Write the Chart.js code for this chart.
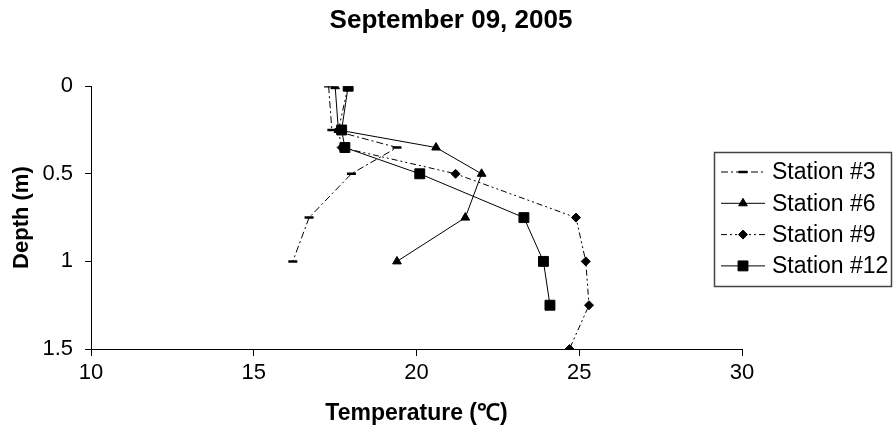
<!DOCTYPE html>
<html>
<head>
<meta charset="utf-8">
<script src="https://cdn.jsdelivr.net/npm/chart.js@4.4.0/dist/chart.umd.min.js"></script>
<style>
  body { margin: 0; background: #fff; }
  #wrap { width: 893px; height: 442px; position: relative; }
</style>
</head>
<body>
<div id="wrap"><canvas id="profile"></canvas></div>
<script>
const stationNames = ['Station #3', 'Station #6', 'Station #9', 'Station #12'];

const depth3 = [0, 0.25, 0.35, 0.5, 0.75, 1];
const temp3 = [17.3, 17.4, 19.4, 18.0, 16.7, 16.2];

const depth6 = [0, 0.25, 0.35, 0.5, 0.75, 1];
const temp6 = [17.5, 17.6, 20.6, 22.0, 21.5, 19.4];

const depth9 = [0, 0.25, 0.35, 0.5, 0.75, 1, 1.25, 1.5];
const temp9 = [17.9, 17.6, 17.7, 21.2, 24.9, 25.2, 25.3, 24.7];

const depth12 = [0, 0.25, 0.35, 0.5, 0.75, 1, 1.25];
const temp12 = [17.9, 17.7, 17.8, 20.1, 23.3, 23.9, 24.1];

const FONT = '"Liberation Sans", Arial, sans-serif';

function pairs (temps, depths) {
  return temps.map((t, i) => ({ x: t, y: depths[i] }));
}

function series (label, temps, depths, style, order) {
  return Object.assign({
    label: label,
    data: pairs(temps, depths),
    showLine: true,
    borderColor: '#000',
    backgroundColor: '#000',
    pointBorderColor: '#000',
    pointBackgroundColor: '#000',
    borderWidth: 1,
    pointBorderWidth: 1,
    order: order
  }, style);
}

const datasets = [
  series(stationNames[0], temp3, depth3, {
    borderDash: [7, 3, 2, 3], pointStyle: 'line', pointRadius: 4.5, pointBorderWidth: 2.5
  }, 3),
  series(stationNames[1], temp6, depth6, {
    pointStyle: 'triangle', pointRadius: 5
  }, 2),
  series(stationNames[2], temp9, depth9, {
    borderDash: [6, 3, 2, 3, 2, 3], pointStyle: 'rectRot', pointRadius: 4.5
  }, 1),
  series(stationNames[3], temp12, depth12, {
    pointStyle: 'rect', pointRadius: 7
  }, 0)
];

// legend drawn by hand so it can sit over the plot's right edge like the original
const legendBox = {
  id: 'legendBox',
  afterDraw (chart) {
    const ctx = chart.ctx;
    const left = 714, top = 152, right = 892, bottom = 287;
    ctx.save();
    ctx.fillStyle = '#fff';
    ctx.fillRect(left, top, right - left, bottom - top);
    ctx.strokeStyle = '#444';
    ctx.lineWidth = 1.5;
    ctx.strokeRect(left + 0.5, top + 0.5, right - left - 1, bottom - top - 1);
    chart.data.datasets.forEach((ds, i) => {
      const y = 172 + i * 31.3;
      ctx.save();
      ctx.strokeStyle = '#000';
      ctx.lineWidth = 1;
      ctx.setLineDash(ds.borderDash || []);
      ctx.beginPath();
      ctx.moveTo(721, y);
      ctx.lineTo(765, y);
      ctx.stroke();
      ctx.restore();
      ctx.fillStyle = '#000';
      ctx.strokeStyle = '#000';
      ctx.lineWidth = ds.pointBorderWidth;
      Chart.helpers.drawPoint(ctx, {
        pointStyle: ds.pointStyle,
        radius: ds.pointRadius,
        rotation: 0,
        borderWidth: ds.pointBorderWidth
      }, 743, y);
      ctx.fillStyle = '#000';
      ctx.font = '23px ' + FONT;
      ctx.textBaseline = 'middle';
      ctx.textAlign = 'left';
      ctx.fillText(ds.label, 772, y + 1);
    });
    ctx.restore();
  }
};

new Chart(document.getElementById('profile'), {
  type: 'scatter',
  data: { datasets: datasets },
  options: {
    responsive: true,
    maintainAspectRatio: false,
    animation: false,
    layout: {
      padding: { left: 9, right: 0, top: 0, bottom: 11 }
    },
    plugins: {
      legend: { display: false },
      tooltip: { enabled: false },
      title: {
        display: true,
        text: 'September 09, 2005',
        color: '#000',
        font: { family: FONT, size: 26, weight: 'bold' },
        padding: { top: 5, bottom: 50 }
      }
    },
    scales: {
      x: {
        type: 'linear',
        min: 10,
        max: 30,
        ticks: {
          stepSize: 5,
          color: '#000',
          padding: 4,
          font: { family: FONT, size: 22 }
        },
        grid: {
          drawOnChartArea: false,
          drawTicks: true,
          tickLength: 7,
          color: '#000'
        },
        border: { display: true, color: '#000', width: 1 },
        title: {
          display: true,
          text: 'Temperature (℃)',
          color: '#000',
          font: { family: FONT, size: 23, weight: 'bold' },
          padding: { top: 9, bottom: 4 }
        }
      },
      y: {
        type: 'linear',
        reverse: true,
        min: 0,
        max: 1.5,
        afterFit (scale) { scale.width = 82; },
        ticks: {
          stepSize: 0.5,
          color: '#000',
          padding: 12,
          font: { family: FONT, size: 22 },
          callback: (v) => String(v)
        },
        grid: {
          drawOnChartArea: false,
          drawTicks: true,
          tickLength: 6,
          color: '#000'
        },
        border: { display: true, color: '#000', width: 1 },
        title: {
          display: true,
          text: 'Depth (m)',
          color: '#000',
          font: { family: FONT, size: 22, weight: 'bold' },
          padding: { top: 0, bottom: 0 }
        }
      },
      // empty right-hand axis that only reserves room for the legend
      side: {
        type: 'linear',
        position: 'right',
        afterFit (scale) { scale.width = 151; },
        ticks: { display: false },
        grid: { display: false },
        border: { display: false },
        title: { display: false }
      }
    }
  },
  plugins: [legendBox]
});
</script>
</body>
</html>
